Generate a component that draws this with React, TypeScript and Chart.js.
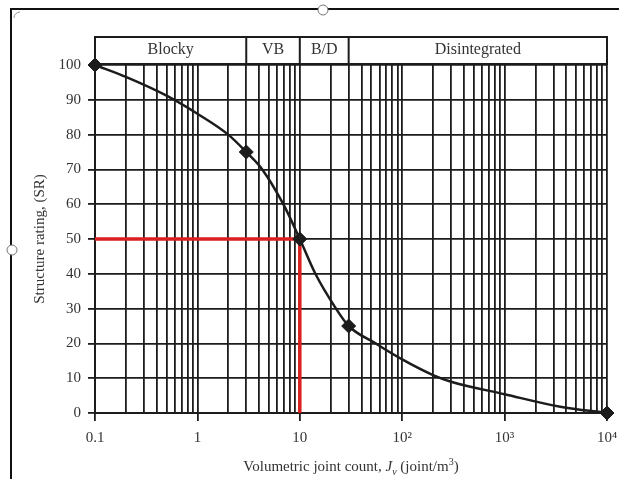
import React, { useEffect, useRef } from "react";
import { Chart, registerables } from "chart.js";

Chart.register(...registerables);

// ---- data ----
const majorTicks = [0.1, 1, 10, 100, 1000, 10000];
const majorLabels = ["0.1", "1", "10", "10²", "10³", "10⁴"];
const yTicks = [0, 10, 20, 30, 40, 50, 60, 70, 80, 90, 100];

// curve
const curveX = [0.1, 0.2, 0.5, 1, 2, 3, 4.3, 6.9, 10, 14.2, 22, 30, 55, 100, 200, 300, 1000, 3500, 10000];
const curveY = [100, 96.6, 91.2, 86, 80, 75, 70, 60, 50, 40, 30.5, 25, 20, 15.4, 10.9, 9.0, 5.4, 1.8, 0];

// diamond markers
const markerX = [0.1, 3, 10, 30, 10000];
const markerY = [100, 75, 50, 25, 0];

// red reference lines
const refX = [0.1, 10, 10];
const refY = [50, 50, 0];

// top band
const bandLabels = ["Blocky", "VB", "B/D", "Disintegrated"];
const bandEdges = [0.1, 3, 10, 30, 10000];

// minor log grid values (1..9 per decade)
const gridValues: number[] = [];
for (let e = -1; e <= 3; e++) {
  for (let m = 1; m <= 9; m++) {
    gridValues.push(Number((m * Math.pow(10, e)).toPrecision(6)));
  }
}
gridValues.push(10000);

const FONT = "'Liberation Serif', 'DejaVu Serif', serif";
const INK = "#1c1c1c";
const TXT = "#333";

const decorPlugin = {
  id: "decor",
  beforeDraw(chart: any) {
    const ctx = chart.ctx;
    ctx.save();
    ctx.fillStyle = "#fff";
    ctx.fillRect(0, 0, chart.width, chart.height);
    ctx.restore();
  },
  afterDraw(chart: any) {
    const ctx = chart.ctx;
    const ca = chart.chartArea;
    const xs = chart.scales.x;
    ctx.save();

    // top band
    const bTop = 37;
    const bBot = ca.top - 1;
    ctx.strokeStyle = INK;
    ctx.lineWidth = 2;
    ctx.strokeRect(ca.left, bTop, ca.right - ca.left, bBot - bTop);
    ctx.font = `16px ${FONT}`;
    ctx.fillStyle = TXT;
    ctx.textAlign = "center";
    ctx.textBaseline = "middle";
    for (let i = 0; i < bandLabels.length; i++) {
      const x0 = xs.getPixelForValue(bandEdges[i]);
      const x1 = xs.getPixelForValue(bandEdges[i + 1]);
      if (i > 0) {
        ctx.beginPath();
        ctx.moveTo(x0, bTop);
        ctx.lineTo(x0, bBot);
        ctx.stroke();
      }
      ctx.fillText(bandLabels[i], (x0 + x1) / 2, (bTop + bBot) / 2 - 1);
    }

    // x title with italic J_v and superscript 3
    const parts: [string, string, number][] = [
      ["Volumetric joint count, ", `15px ${FONT}`, 0],
      ["J", `italic 15px ${FONT}`, 0],
      ["v", `italic 10px ${FONT}`, 4],
      [" (joint/m", `15px ${FONT}`, 0],
      ["3", `10px ${FONT}`, -6],
      [")", `15px ${FONT}`, 0],
    ];
    let total = 0;
    for (const p of parts) {
      ctx.font = p[1];
      total += ctx.measureText(p[0]).width;
    }
    let cx = (ca.left + ca.right) / 2 - total / 2;
    const base = 471;
    ctx.textAlign = "left";
    ctx.textBaseline = "alphabetic";
    for (const p of parts) {
      ctx.font = p[1];
      ctx.fillText(p[0], cx, base + p[2]);
      cx += ctx.measureText(p[0]).width;
    }

    // y title
    ctx.save();
    ctx.translate(40, (ca.top + ca.bottom) / 2);
    ctx.rotate(-Math.PI / 2);
    ctx.font = `15px ${FONT}`;
    ctx.textAlign = "center";
    ctx.textBaseline = "middle";
    ctx.fillText("Structure rating, (SR)", 0, 0);
    ctx.restore();

    // frame of the screenshot
    ctx.strokeStyle = "#111";
    ctx.lineWidth = 2;
    ctx.beginPath();
    ctx.moveTo(11, 479);
    ctx.lineTo(11, 9);
    ctx.lineTo(619, 9);
    ctx.stroke();
    // handles
    ctx.lineWidth = 1;
    ctx.strokeStyle = "#777";
    ctx.fillStyle = "#fff";
    for (const [hx, hy] of [[323, 10], [12, 250]]) {
      ctx.beginPath();
      ctx.arc(hx, hy, 5, 0, Math.PI * 2);
      ctx.fill();
      ctx.stroke();
    }
    ctx.strokeStyle = "#999";
    ctx.beginPath();
    ctx.arc(20, 18, 6, Math.PI, Math.PI * 1.5);
    ctx.stroke();
    ctx.restore();
  },
};

export default function App() {
  const ref = useRef<HTMLCanvasElement | null>(null);
  useEffect(() => {
    if (!ref.current) return;
    const chart = new Chart(ref.current, {
      type: "scatter",
      data: {
        datasets: [
          {
            label: "ref",
            data: refX.map((x, i) => ({ x, y: refY[i] })),
            showLine: true,
            borderColor: "#d91f1f",
            borderWidth: 3.5,
            pointRadius: 0,
            clip: false,
            order: 3,
          },
          {
            label: "curve",
            data: curveX.map((x, i) => ({ x, y: curveY[i] })),
            showLine: true,
            borderColor: INK,
            borderWidth: 2.5,
            pointRadius: 0,
            cubicInterpolationMode: "monotone",
            clip: false,
            order: 2,
          },
          {
            label: "markers",
            data: markerX.map((x, i) => ({ x, y: markerY[i] })),
            showLine: false,
            pointStyle: "rectRot",
            pointRadius: 7,
            backgroundColor: INK,
            borderColor: INK,
            borderWidth: 1,
            clip: false,
            order: 1,
          },
        ],
      },
      options: {
        responsive: false,
        animation: false,
        layout: { padding: { top: 65, right: 12, left: 0, bottom: 0 } },
        plugins: { legend: { display: false }, tooltip: { enabled: false } },
        scales: {
          x: {
            type: "logarithmic",
            min: 0.1,
            max: 10000,
            afterBuildTicks: (scale: any) => {
              scale.ticks = gridValues.map((v) => ({ value: v }));
            },
            afterFit: (scale: any) => {
              scale.height = 66;
              scale.paddingLeft = 0;
              scale.paddingRight = 0;
            },
            grid: {
              color: INK,
              lineWidth: 1.8,
              tickLength: 8,
              tickColor: (c: any) =>
                c.tick && majorTicks.includes(c.tick.value) ? INK : "rgba(0,0,0,0)",
            },
            border: { color: INK, width: 2 },
            ticks: {
              autoSkip: false,
              maxRotation: 0,
              padding: 8,
              color: TXT,
              font: { family: FONT, size: 15 },
              callback: (v: any) => {
                const i = majorTicks.indexOf(Number(v));
                return i >= 0 ? majorLabels[i] : "";
              },
            },
          },
          y: {
            type: "linear",
            min: 0,
            max: 100,
            afterBuildTicks: (scale: any) => {
              scale.ticks = yTicks.map((v) => ({ value: v }));
            },
            afterFit: (scale: any) => {
              scale.width = 95;
              scale.paddingTop = 0;
              scale.paddingBottom = 0;
            },
            grid: { color: INK, lineWidth: 1.8, tickLength: 7 },
            border: { color: INK, width: 2 },
            ticks: {
              padding: 7,
              color: TXT,
              font: { family: FONT, size: 15 },
            },
          },
        },
      },
      plugins: [decorPlugin],
    } as any);
    return () => chart.destroy();
  }, []);
  return (
    <div style={{ position: "fixed", left: 0, top: 0, width: 619, height: 479, background: "#fff" }}>
      <canvas ref={ref} width={619} height={479} style={{ display: "block" }} />
    </div>
  );
}
